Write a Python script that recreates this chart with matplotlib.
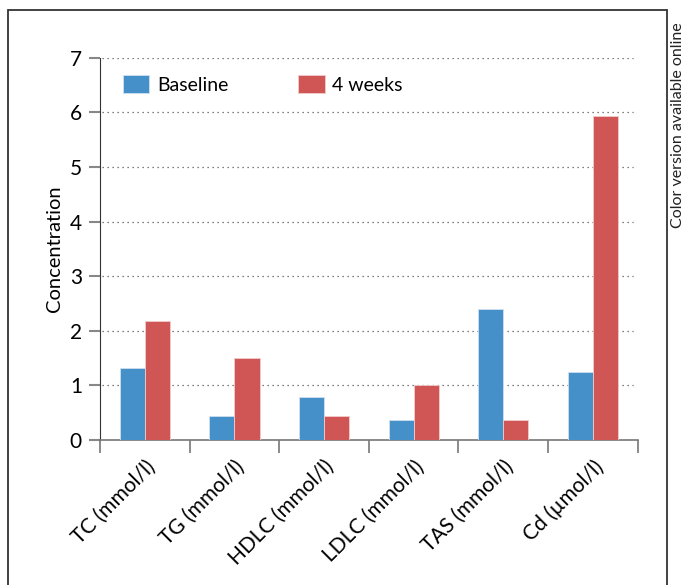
import numpy as np
import matplotlib.pyplot as plt
from matplotlib.patches import Rectangle

plt.rcParams['font.family'] = ['Lato', 'DejaVu Sans']

categories = ['TC (mmol/l)', 'TG (mmol/l)', 'HDLC (mmol/l)',
              'LDLC (mmol/l)', 'TAS (mmol/l)', 'Cd (µmol/l)']
baseline = [1.31, 0.43, 0.78, 0.36, 2.39, 1.25]
weeks4 = [2.17, 1.51, 0.43, 1.00, 0.36, 5.94]

blue = '#4690c9'
red = '#d05555'

fig = plt.figure(figsize=(6.85, 5.85), dpi=100)
ax = fig.add_axes([0.146, 0.248, 0.785, 0.653])

x = np.arange(len(categories)) + 0.5
w = 0.28
ax.bar(x - w / 2, baseline, w, color=blue, edgecolor='#cfe0ef', linewidth=0.6, label='Baseline', zorder=3)
ax.bar(x + w / 2, weeks4, w, color=red, edgecolor='#f1cccc', linewidth=0.6, label='4 weeks', zorder=3)

ax.set_xlim(0, 6)
ax.set_ylim(0, 7)
ax.set_yticks(range(8))
for v in range(1, 8):
    ax.plot([0.02, 5.95], [v, v], ls=(0, (1, 3)), color='#555555', lw=0.9, zorder=1)

ax.set_xticks(range(7))
ax.set_xticklabels([])
ax.set_xticks(x, minor=True)
ax.set_xticklabels(categories, minor=True, rotation=45, ha='right', rotation_mode='anchor', fontsize=15)
ax.tick_params(axis='x', which='minor', length=0, pad=12)
ax.tick_params(axis='x', which='major', length=9, width=1.2, color='#777777', direction='out')
ax.tick_params(axis='y', length=8, width=1.5, color='#888888', labelsize=15, pad=5)

for s in ['top', 'right']:
    ax.spines[s].set_visible(False)
ax.spines['left'].set_color('#333333')
ax.spines['bottom'].set_color('#777777')
ax.spines['bottom'].set_linewidth(1.2)

ax.set_ylabel('Concentration', fontsize=14.5, labelpad=5)

ax.legend(loc='upper left', bbox_to_anchor=(0.01, 1.0), ncol=2, frameon=False,
          fontsize=14, handlelength=1.35, handleheight=1.0, columnspacing=3.6,
          handletextpad=0.4)

# outer frame
fig.patches.append(Rectangle((8 / 685, -0.1), (667 - 8) / 685, 1.1 - 10 / 585,
                             transform=fig.transFigure, fill=False,
                             edgecolor='#333333', lw=1.3))
fig.text(677.5 / 685, (585 - 228) / 585, 'Color version available online',
         rotation=90, ha='center', va='bottom', fontsize=11.5, color='#222222')

fig.savefig('out.png', dpi=100)
